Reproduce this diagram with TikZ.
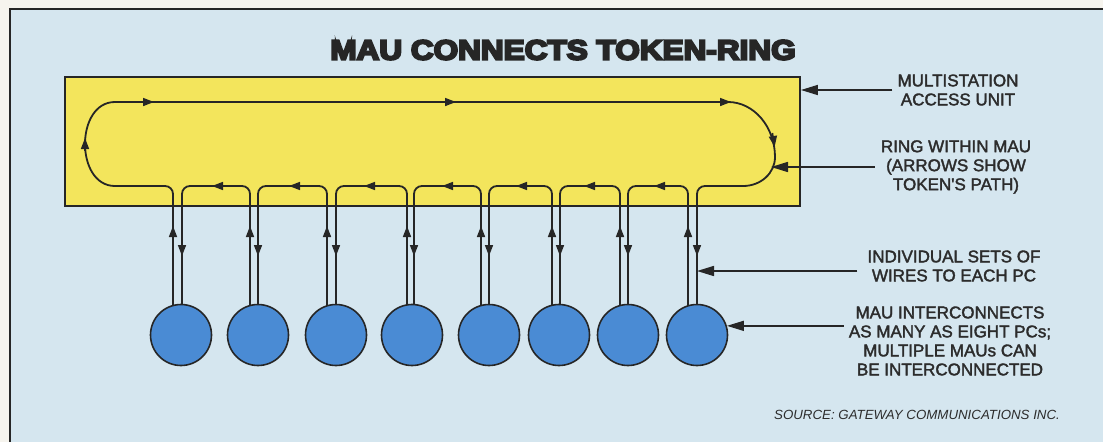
\documentclass[tikz,border=0pt]{standalone}
\usepackage{fontspec}
\setmainfont{Liberation Sans}
\newfontfamily\titlefont{Liberation Sans Bold}
\newfontfamily\notefont{Liberation Sans}
\newfontfamily\srcfont{Liberation Sans Italic}
\usetikzlibrary{arrows.meta}
\pgfdeclarelayer{bg}\pgfdeclarelayer{wires}\pgfsetlayers{bg,wires,main}
\definecolor{paper}{HTML}{F6F4EE}
\definecolor{skyb}{HTML}{D5E6EF}
\definecolor{mauy}{HTML}{F3E55C}
\definecolor{pcb}{HTML}{4A8BD4}
\definecolor{ink}{HTML}{262626}
\definecolor{txt}{HTML}{2C2C2C}
\newcommand\heavytext[2]{\special{pdf:literal direct 2 Tr #1 w}#2\special{pdf:literal direct 0 Tr}}
\begin{document}
\begin{tikzpicture}[x=1pt,y=-1pt,
 wire/.style={draw=ink, line width=1.8pt, line cap=round, line join=round},
 tok/.style={draw=ink, line width=1.6pt, -{Triangle[length=11pt,width=8pt]}},
 pc/.style={circle, draw=ink, line width=1.6pt, fill=pcb, minimum size=61pt, inner sep=0pt},
 note/.style={text=txt, align=center, font=\notefont\fontsize{17}{19}\selectfont, inner sep=0pt},
 callout/.style={draw=ink, line width=1.6pt, -{Triangle[length=17pt,width=10pt]}},
]
\useasboundingbox (0,0) rectangle (1103,442);
\begin{pgfonlayer}{bg}
\fill[paper] (0,0) rectangle (1103,442);
\fill[skyb] (10,9) rectangle (1103,442);
\draw[ink, line width=2pt] (10,442) -- (10,9) -- (1103,9);
\node[draw=ink, line width=1.8pt, fill=mauy, minimum width=735pt, minimum height=129pt, inner sep=0pt] (mau) at (432.5,141.5) {};
\end{pgfonlayer}

% title
\node[text=ink, inner sep=0pt] (title) at (563,50) {\scalebox{1.13}[1]{\titlefont\fontsize{27.9}{30}\selectfont\heavytext{2}{MAU CONNECTS TOKEN-RING}}};

% PCs
\foreach \i/\x in {1/181,2/258,3/336,4/412,5/489,6/559,7/628,8/697}
  \node[pc] (pc\i) at (\x,335) {};

% ring and wires
\begin{pgfonlayer}{wires}
\coordinate (ringBL) at (115,186);
\coordinate (ringBR) at (743,186);
\draw[wire] (ringBL) .. controls (75,186) and (75,102) .. (115,102) -- (728,102)
  .. controls (754,102) and (775,127) .. (775,157)
  .. controls (775,173) and (761,186) .. (ringBR);
\draw[wire, rounded corners=8pt] (173,310) -- (173,186) -- (ringBL);
\foreach \a/\b in {250/182,327/258,407/336,481/414,552/489,620/560,688/628}
  \draw[wire, rounded corners=8pt] (\a,310) -- (\a,186) -- (\b,186) -- (\b,310);
\draw[wire, rounded corners=8pt] (ringBR) -- (697,186) -- (697,310);
\end{pgfonlayer}

% token arrows
\foreach \x in {148,450,725} \draw[tok] (\x-7,102) -- (\x+6,102);
\foreach \x in {218,295,370,448,522,590,660} \draw[tok] (\x+7,186) -- (\x-6,186);
\draw[tok] (85,151) -- (85,138);
\draw[tok] (772.4,133) -- (774.6,147);
\foreach \x in {173,250,327,407,481,552,620,688} \draw[tok] (\x,239) -- (\x,226);
\foreach \x in {182,258,336,414,489,560,628,697} \draw[tok] (\x,243) -- (\x,256);

% callouts
\node[note] (t1) at (958,90) {\heavytext{0.35}{MULTISTATION\\ACCESS UNIT}};
\coordinate (s1) at ([xshift=-5pt]t1.west);
\draw[callout] (s1) -- (s1 -| mau.east);

\node[note] (t2) at (956,167) {\heavytext{0.35}{RING WITHIN MAU\\(ARROWS SHOW\\TOKEN'S PATH)}};
\coordinate (s2) at ([xshift=-6pt]t2.west);
\coordinate (ringE) at (771,167);
\draw[callout] (s2) -- (ringE);

\node[note] (t3) at (954,266) {\heavytext{0.35}{INDIVIDUAL SETS OF\\WIRES TO EACH PC}};
\coordinate (s3) at ([xshift=-10pt]t3.west);
\coordinate (w8) at (697,271);
\draw[callout] (s3 |- w8) -- (w8);

\node[note] (t4) at (950,341) {\heavytext{0.35}{MAU INTERCONNECTS\\AS MANY AS EIGHT PCs;\\MULTIPLE MAUs CAN\\BE INTERCONNECTED}};
\coordinate (s4) at ([xshift=-5pt]t4.west);
\draw[callout] (s4 |- pc8.17) -- (pc8.17);

\node[text=txt, inner sep=0pt, font=\srcfont\fontsize{13.3}{15}\selectfont] (src) at (917,414.5) {SOURCE: GATEWAY COMMUNICATIONS INC.};
\end{tikzpicture}
\end{document}
